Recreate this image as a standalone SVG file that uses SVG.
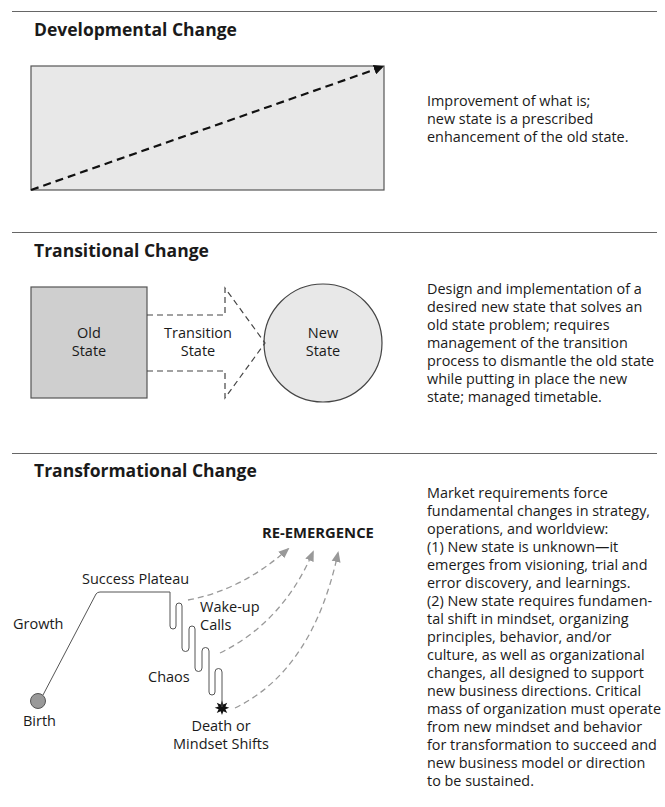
<svg xmlns="http://www.w3.org/2000/svg" width="665" height="807" viewBox="0 0 665 807">
<style>
text{font-family:"Open Sans","Noto Sans","Liberation Sans",sans-serif;fill:#1a1a1a}
.h{font-size:17.5px;font-weight:bold}
.b{font-size:14.4px}
.l{font-size:14.5px}
.rule{stroke:#666;stroke-width:1.2}
.gd{fill:none;stroke:#999;stroke-width:1.3;stroke-dasharray:6 4}
.td{fill:none;stroke:#444;stroke-width:1.2;stroke-dasharray:6 4}
</style>
<defs>
<marker id="ab" markerWidth="10" markerHeight="10" refX="8" refY="5" orient="auto" markerUnits="userSpaceOnUse"><path d="M0,0 L10,5 L0,10 Z" fill="#111"/></marker>
<marker id="ag" markerWidth="11" markerHeight="10" refX="9" refY="5" orient="auto" markerUnits="userSpaceOnUse"><path d="M0,0.5 L11,5 L0,9.5 Z" fill="#999"/></marker>
</defs>
<g id="rules">
<line class="rule" x1="12" y1="11.5" x2="657" y2="11.5"/>
<line class="rule" x1="12" y1="232.5" x2="657" y2="232.5"/>
<line class="rule" x1="12" y1="453.5" x2="657" y2="453.5"/>
</g>
<g id="developmental">
<text class="h" x="34" y="36">Developmental Change</text>
<rect id="dev-box" x="31" y="66" width="353" height="124" fill="#e8e8e8" stroke="#555" stroke-width="1.2"/>
<text class="b" x="427" y="106">Improvement of what is;</text>
<text class="b" x="427" y="124">new state is a prescribed</text>
<text class="b" x="427" y="142">enhancement of the old state.</text>
</g>
<g id="transitional">
<text class="h" x="34" y="257">Transitional Change</text>
<g id="old-state">
<rect x="31" y="287" width="116" height="111" fill="#cfcfcf" stroke="#555" stroke-width="1.2"/>
<text class="l" x="89" y="338" text-anchor="middle">Old</text>
<text class="l" x="89" y="356" text-anchor="middle">State</text>
</g>
<g id="transition-state">
<text class="l" x="198" y="338" text-anchor="middle">Transition</text>
<text class="l" x="198" y="356" text-anchor="middle">State</text>
</g>
<g id="new-state">
<circle cx="323" cy="343" r="59" fill="#e8e8e8" stroke="#444" stroke-width="1.2"/>
<text class="l" x="323" y="338" text-anchor="middle">New</text>
<text class="l" x="323" y="356" text-anchor="middle">State</text>
</g>
<g id="transitional-text">
<text class="b" x="427" y="294">Design and implementation of a</text>
<text class="b" x="427" y="312">desired new state that solves an</text>
<text class="b" x="427" y="330">old state problem; requires</text>
<text class="b" x="427" y="348">management of the transition</text>
<text class="b" x="427" y="366">process to dismantle the old state</text>
<text class="b" x="427" y="384">while putting in place the new</text>
<text class="b" x="427" y="402">state; managed timetable.</text>
</g>
</g>
<g id="transformational">
<text class="h" x="34" y="477">Transformational Change</text>
<g id="birth">
<circle cx="38" cy="701" r="7.5" fill="#999" stroke="#555" stroke-width="1"/>
<text class="l" x="23" y="726">Birth</text>
</g>
<text class="l" x="13" y="629">Growth</text>
<text class="l" x="82" y="584">Success Plateau</text>
<text class="l" x="200" y="612">Wake-up</text>
<text class="l" x="200" y="630">Calls</text>
<text class="l" x="148" y="682">Chaos</text>
<g id="death">
<path d="M222,700.5 L223.4,704.4 L227.2,702.7 L225.4,706.4 L229.3,707.8 L225.4,709.2 L227.2,712.9 L223.4,711.2 L222,715.1 L220.6,711.2 L216.8,712.9 L218.6,709.2 L214.7,707.8 L218.6,706.4 L216.8,702.7 L220.6,704.4 Z" fill="#111"/>
<text class="l" x="221" y="731" text-anchor="middle">Death or</text>
<text class="l" x="221" y="749" text-anchor="middle">Mindset Shifts</text>
</g>
<text x="262" y="538" style="font-size:14.8px;font-weight:bold">RE-EMERGENCE</text>
<g id="transformational-text">
<text class="b" x="427" y="498">Market requirements force</text>
<text class="b" x="427" y="516">fundamental changes in strategy,</text>
<text class="b" x="427" y="534">operations, and worldview:</text>
<text class="b" x="427" y="552">(1) New state is unknown—it</text>
<text class="b" x="427" y="570">emerges from visioning, trial and</text>
<text class="b" x="427" y="588">error discovery, and learnings.</text>
<text class="b" x="427" y="606">(2) New state requires fundamen-</text>
<text class="b" x="427" y="624">tal shift in mindset, organizing</text>
<text class="b" x="427" y="642">principles, behavior, and/or</text>
<text class="b" x="427" y="660">culture, as well as organizational</text>
<text class="b" x="427" y="678">changes, all designed to support</text>
<text class="b" x="427" y="696">new business directions. Critical</text>
<text class="b" x="427" y="714">mass of organization must operate</text>
<text class="b" x="427" y="732">from new mindset and behavior</text>
<text class="b" x="427" y="750">for transformation to succeed and</text>
<text class="b" x="427" y="768">new business model or direction</text>
<text class="b" x="427" y="786">to be sustained.</text>
</g>
</g>
<g id="connectors">
<line x1="31" y1="190" x2="382" y2="67" stroke="#111" stroke-width="2.2" stroke-dasharray="8 5" marker-end="url(#ab)"/>
<path class="td" d="M147,315 H225 V288 L265,343 L225,398 V371 H147"/>
<path d="M43,695 L96,594 Q97.5,592 100,592 H170 V626 A3,3 0 0 0 176,626 V606 A3,3 0 0 1 182,606 V648 A3.5,3.5 0 0 0 189,648 V629 A3,3 0 0 1 195,629 V668 A3.5,3.5 0 0 0 202,668 V651 A3.5,3.5 0 0 1 209,651 V692 A3,3 0 0 0 215,692 V672 A3.5,3.5 0 0 1 222,672 V707" fill="none" stroke="#555" stroke-width="1"/>
<path class="gd" d="M188,600 Q242,590 288,549" marker-end="url(#ag)"/>
<path class="gd" d="M220,653 Q283,622 313,552" marker-end="url(#ag)"/>
<path class="gd" d="M235,708 Q313,670 338,553" marker-end="url(#ag)"/>
</g>
</svg>
